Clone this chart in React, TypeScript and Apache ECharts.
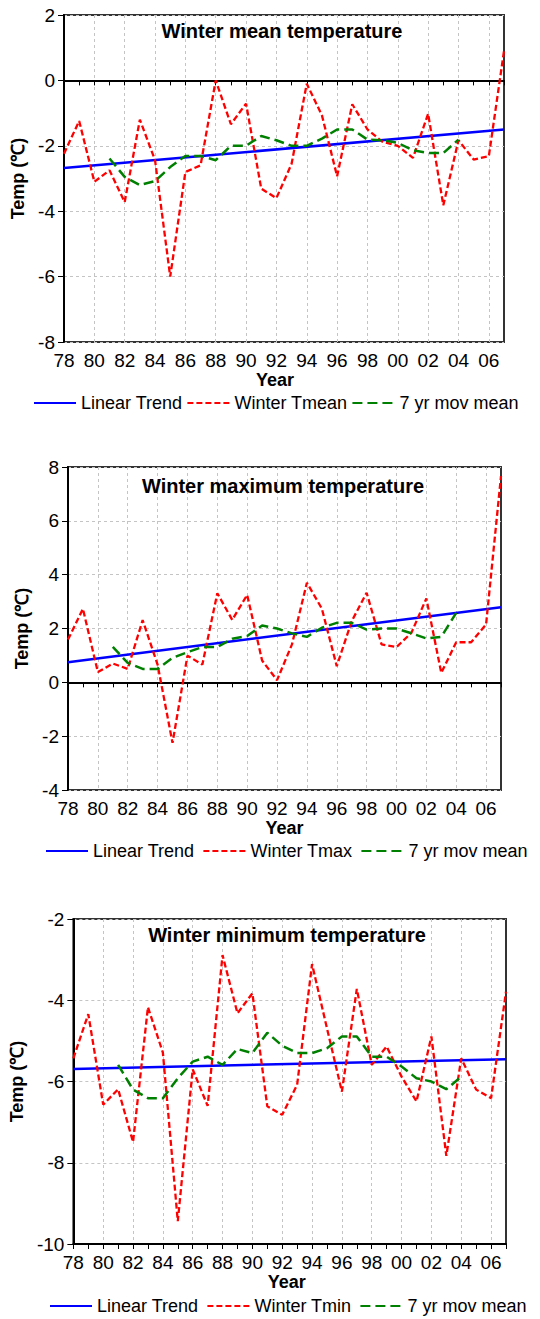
import React, { useEffect, useRef } from "react";
import * as echarts from "echarts";

// Tick labels / categories (winter seasons 1978–2007)
const years = [
  "78", "79", "80", "81", "82", "83", "84", "85", "86", "87",
  "88", "89", "90", "91", "92", "93", "94", "95", "96", "97",
  "98", "99", "00", "01", "02", "03", "04", "05", "06", "07",
];

// Panel 1: winter mean temperature
const meanT = [
  -2.24, -1.24, -3.1, -2.75, -3.72, -1.2, -2.44, -6.0, -2.8, -2.6,
  0.0, -1.34, -0.71, -3.31, -3.6, -2.55, -0.1, -1.07, -2.93, -0.73,
  -1.5, -1.88, -2.0, -2.37, -1.02, -3.82, -1.83, -2.42, -2.32, 0.9,
];
const meanMA = [
  null, null, null, -2.39, -2.95, -3.2, -3.08, -2.65, -2.31, -2.31,
  -2.44, -2.0, -2.0, -1.7, -1.83, -2.0, -2.0, -1.78, -1.5, -1.5,
  -1.81, -1.83, -1.91, -2.14, -2.22, -2.22, -1.81, null, null, null,
];
const meanTrend = [-2.68, -1.5];

// Panel 2: winter maximum temperature
const maxT = [
  1.59, 2.73, 0.38, 0.7, 0.5, 2.31, 0.66, -2.25, 0.99, 0.66,
  3.31, 2.32, 3.25, 0.81, 0.08, 1.41, 3.7, 2.74, 0.6, 2.27,
  3.33, 1.41, 1.31, 1.84, 3.12, 0.35, 1.49, 1.49, 2.15, 7.66,
];
const maxMA = [
  null, null, null, 1.32, 0.72, 0.5, 0.5, 0.91, 1.12, 1.31,
  1.31, 1.62, 1.72, 2.11, 2.0, 1.82, 1.69, 2.03, 2.21, 2.21,
  1.96, 2.0, 2.0, 1.82, 1.63, 1.69, 2.58, null, null, null,
];
const maxTrend = [0.75, 2.79];

// Panel 3: winter minimum temperature
const minT = [
  -5.43, -4.34, -6.57, -6.19, -7.49, -4.17, -5.29, -9.44, -5.7, -6.6,
  -2.89, -4.32, -3.83, -6.61, -6.82, -6.08, -3.11, -4.69, -6.25, -3.72,
  -5.59, -5.14, -5.88, -6.49, -4.89, -7.83, -5.43, -6.2, -6.41, -3.79,
];
const minMA = [
  null, null, null, -5.59, -6.2, -6.41, -6.41, -5.92, -5.51, -5.39,
  -5.59, -5.2, -5.3, -4.8, -5.12, -5.3, -5.3, -5.18, -4.89, -4.89,
  -5.39, -5.39, -5.63, -5.92, -6.0, -6.19, -5.88, null, null, null,
];
const minTrend = [-5.69, -5.45];

const titles = [
  "Winter mean temperature",
  "Winter maximum temperature",
  "Winter minimum temperature",
];
const seriesNames = ["Winter Tmean", "Winter Tmax", "Winter Tmin"];
const yRanges = [
  [-8, 2],
  [-4, 8],
  [-10, -2],
];

const FONT = "'Liberation Sans', Arial, sans-serif";

const panels = [
  { left: 64, top: 15, width: 440, height: 327, titleX: 282, titleTop: 21, legendTop: 394, legendLeft: 33, legendGap: 4, yearPad: [0, 18, 0, 0] },
  { left: 68, top: 467, width: 433, height: 323, titleX: 283, titleTop: 476, legendTop: 842, legendLeft: 45, legendGap: 8, yearPad: [0, 0, 0, 0] },
  { left: 69, top: 919, width: 437, height: 325, titleX: 287, titleTop: 925, legendTop: 1297, legendLeft: 49, legendGap: 8, yearPad: [0, 6, 0, 0] },
];

export default function App() {
  const ref = useRef<HTMLDivElement>(null);

  useEffect(() => {
    document.body.style.margin = "0";
    if (!ref.current) return;
    const chart = echarts.init(ref.current, undefined, { renderer: "svg" });

    const obs = [meanT, maxT, minT];
    const mas = [meanMA, maxMA, minMA];
    const trends = [meanTrend, maxTrend, minTrend];

    const grid: any[] = [];
    const xAxis: any[] = [];
    const yAxis: any[] = [];
    const series: any[] = [];
    const title: any[] = [];
    const legend: any[] = [];

    panels.forEach((p, i) => {
      grid.push({
        left: p.left,
        top: p.top,
        width: p.width,
        height: p.height,
        show: true,
        borderColor: "#333",
        borderWidth: 2,
        backgroundColor: "transparent",
      });
      xAxis.push({
        type: "category",
        gridIndex: i,
        data: years,
        boundaryGap: false,
        axisLine: { show: true, lineStyle: { color: "#000", width: 2 } },
        axisTick: { show: true, interval: 0, length: 5, lineStyle: { color: "#000", width: 1 } },
        axisLabel: { interval: 1, fontSize: 19, color: "#000", fontFamily: FONT, margin: 9 },
        splitLine: { show: true, interval: 1, lineStyle: { color: "#c4c4c4", type: [3, 3], width: 1 } },
        name: "Year",
        nameLocation: "middle",
        nameGap: 27,
        nameTextStyle: { fontSize: 18, fontWeight: "bold", color: "#000", fontFamily: FONT, padding: p.yearPad },
      });
      yAxis.push({
        type: "value",
        gridIndex: i,
        min: yRanges[i][0],
        max: yRanges[i][1],
        interval: 2,
        axisLine: { show: true, lineStyle: { color: "#000", width: 2 } },
        axisTick: { show: true, length: 6, lineStyle: { color: "#000", width: 1 } },
        axisLabel: { fontSize: 19, color: "#000", fontFamily: FONT, margin: 9 },
        splitLine: { show: true, lineStyle: { color: "#c4c4c4", type: [3, 3], width: 1 } },
        name: "Temp (℃)",
        nameLocation: "middle",
        nameRotate: 90,
        nameGap: 34,
        nameTextStyle: { fontSize: 18, fontWeight: "bold", color: "#000", fontFamily: FONT },
      });
      title.push({
        text: titles[i],
        left: p.titleX,
        top: p.titleTop,
        textAlign: "center",
        padding: 0,
        textStyle: { fontSize: 20, fontWeight: "bold", color: "#000", fontFamily: FONT },
      });
      legend.push({
        top: p.legendTop,
        left: p.legendLeft,
        padding: 0,
        itemWidth: 42,
        itemHeight: 14,
        itemGap: p.legendGap,
        itemStyle: { color: "transparent", borderColor: "transparent", opacity: 0 },
        textStyle: { fontSize: 18, color: "#000", fontFamily: FONT },
        data: ["Linear Trend", seriesNames[i], "7 yr mov mean"],
      });
      series.push({
        name: "Linear Trend",
        type: "line",
        xAxisIndex: i,
        yAxisIndex: i,
        symbol: "none",
        data: [
          [years[0], trends[i][0]],
          [years[years.length - 1], trends[i][1]],
        ],
        lineStyle: { color: "#0000ff", width: 2.5, type: "solid" },
        itemStyle: { color: "#0000ff" },
        z: 3,
      });
      series.push({
        name: seriesNames[i],
        type: "line",
        xAxisIndex: i,
        yAxisIndex: i,
        symbol: "none",
        data: obs[i],
        lineStyle: { color: "#ff0000", width: 2.3, type: [6, 3] },
        itemStyle: { color: "#ff0000" },
        z: 4,
      });
      series.push({
        name: "7 yr mov mean",
        type: "line",
        xAxisIndex: i,
        yAxisIndex: i,
        symbol: "none",
        data: mas[i],
        lineStyle: { color: "#008000", width: 2.5, type: [10, 5] },
        itemStyle: { color: "#008000" },
        z: 5,
      });
    });

    chart.setOption({
      animation: false,
      backgroundColor: "#fff",
      title,
      legend,
      grid,
      xAxis,
      yAxis,
      series,
    });

    return () => {
      chart.dispose();
    };
  }, []);

  return <div ref={ref} style={{ width: 540, height: 1319 }} />;
}
